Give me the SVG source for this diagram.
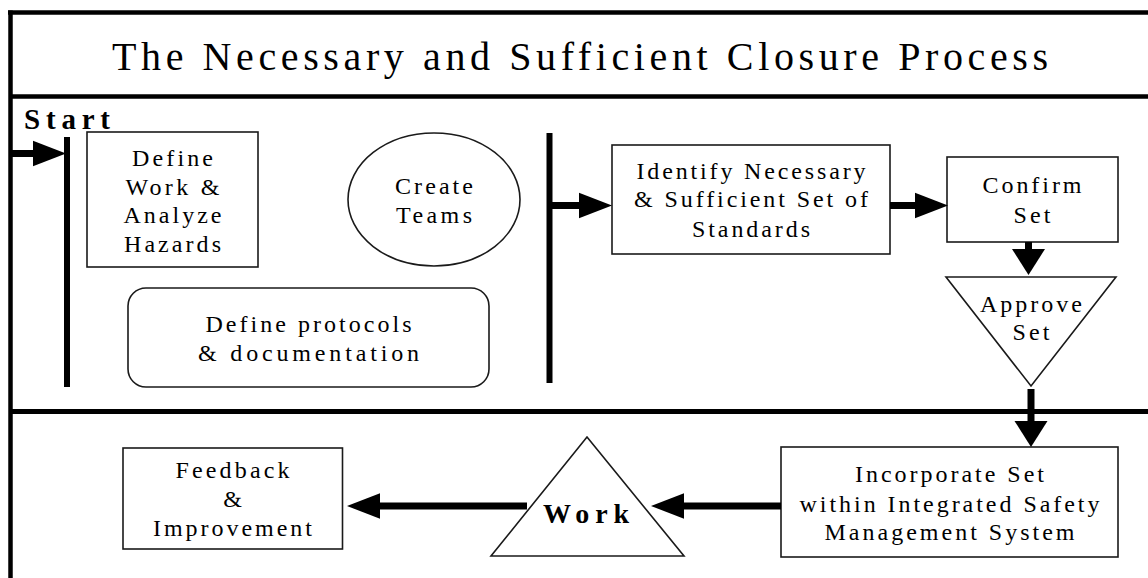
<svg xmlns="http://www.w3.org/2000/svg" width="1148" height="578" viewBox="0 0 1148 578">
<style>
.shape{fill:#fff;stroke:#1a1a1a;stroke-width:1.6}
.frame{stroke:#000;stroke-width:4.5;fill:none}
.bar{stroke:#000;stroke-width:6;fill:none}
.conn{stroke:#000;stroke-width:7;fill:none}
text{font-family:"Liberation Serif","Tinos","Times New Roman","Nimbus Roman","DejaVu Serif","Noto Serif",serif;fill:#000}
.t{font-size:24px;text-anchor:middle}
.b{font-weight:bold}
</style>
<defs>
<marker id="ah" markerUnits="userSpaceOnUse" markerWidth="34" markerHeight="26" refX="0" refY="12.75" orient="auto" overflow="visible">
<path d="M0,0 L33,12.75 L0,25.5 Z" fill="#000"/>
</marker>
<marker id="av" markerUnits="userSpaceOnUse" markerWidth="27" markerHeight="34" refX="0" refY="16.5" orient="auto" overflow="visible">
<path d="M0,0 L26,16.5 L0,33 Z" fill="#000"/>
</marker>
</defs>
<rect width="1148" height="578" fill="#fff"/>
<g id="frame">
<path class="frame" d="M10.5,10.5 V578"/>
<path class="frame" d="M8,12.5 H1148"/>
<path class="frame" d="M10,96.5 H1148"/>
<path class="frame" d="M10,411.5 H1148" style="stroke-width:5"/>
<text x="112" y="70" font-size="40" textLength="936" lengthAdjust="spacing">The Necessary and Sufficient Closure Process</text>
<text class="b" x="24" y="129" font-size="29" textLength="86" lengthAdjust="spacing">Start</text>
<path class="bar" d="M67,137 V387"/>
<path class="bar" d="M549.5,133 V383"/>
</g>
<g id="define-work">
<rect class="shape" x="87" y="132" width="171" height="135"/>
<text class="t" x="172.5" y="166" textLength="81" lengthAdjust="spacing">Define</text>
<text class="t" x="172.5" y="195" textLength="94" lengthAdjust="spacing">Work &amp;</text>
<text class="t" x="172.5" y="223" textLength="98" lengthAdjust="spacing">Analyze</text>
<text class="t" x="172.5" y="252" textLength="97" lengthAdjust="spacing">Hazards</text>
</g>
<g id="create-teams">
<ellipse class="shape" cx="434" cy="199.5" rx="86" ry="66.5"/>
<text class="t" x="434" y="194" textLength="78" lengthAdjust="spacing">Create</text>
<text class="t" x="434" y="223" textLength="76" lengthAdjust="spacing">Teams</text>
</g>
<g id="define-protocols">
<rect class="shape" x="128" y="288" width="361" height="99" rx="18" ry="18"/>
<text class="t" x="308.5" y="332" textLength="206" lengthAdjust="spacing">Define protocols</text>
<text class="t" x="308.5" y="361" textLength="221" lengthAdjust="spacing">&amp; documentation</text>
</g>
<g id="identify">
<rect class="shape" x="612" y="145" width="278" height="109"/>
<text class="t" x="751" y="179" textLength="229" lengthAdjust="spacing">Identify Necessary</text>
<text class="t" x="751" y="207" textLength="234" lengthAdjust="spacing">&amp; Sufficient Set of</text>
<text class="t" x="751" y="237" textLength="118" lengthAdjust="spacing">Standards</text>
</g>
<g id="confirm">
<rect class="shape" x="947" y="157" width="171" height="85"/>
<text class="t" x="1032" y="193" textLength="99" lengthAdjust="spacing">Confirm</text>
<text class="t" x="1032" y="223" textLength="37" lengthAdjust="spacing">Set</text>
</g>
<g id="approve">
<polygon class="shape" points="946,277 1116,277 1031,386"/>
<text class="t" x="1031" y="312" textLength="102" lengthAdjust="spacing">Approve</text>
<text class="t" x="1031" y="340" textLength="37" lengthAdjust="spacing">Set</text>
</g>
<g id="incorporate">
<rect class="shape" x="781" y="447" width="337" height="110"/>
<text class="t" x="949.5" y="482" textLength="189" lengthAdjust="spacing">Incorporate Set</text>
<text class="t" x="949.5" y="512" textLength="300" lengthAdjust="spacing">within Integrated Safety</text>
<text class="t" x="949.5" y="540" textLength="250" lengthAdjust="spacing">Management System</text>
</g>
<g id="work">
<polygon class="shape" points="587,437 684,556 491,556"/>
<text class="b" x="586" y="523" font-size="28" text-anchor="middle" textLength="86" lengthAdjust="spacing">Work</text>
</g>
<g id="feedback">
<rect class="shape" x="123" y="448" width="219.5" height="101"/>
<text class="t" x="232.5" y="478" textLength="114" lengthAdjust="spacing">Feedback</text>
<text class="t" x="232.5" y="507">&amp;</text>
<text class="t" x="232.5" y="536" textLength="159" lengthAdjust="spacing">Improvement</text>
</g>
<g id="connectors">
<path class="conn" d="M10,153.5 H33" marker-end="url(#ah)"/>
<path class="conn" d="M552,205.5 H579" marker-end="url(#ah)"/>
<path class="conn" d="M890,205.5 H915" marker-end="url(#ah)"/>
<path class="conn" d="M1028.5,242 V249" marker-end="url(#av)"/>
<path class="conn" d="M1031,389 V421" marker-end="url(#av)"/>
<path class="conn" d="M781,506 H684" marker-end="url(#ah)"/>
<path class="conn" d="M527,506 H380" marker-end="url(#ah)"/>
</g>
</svg>
